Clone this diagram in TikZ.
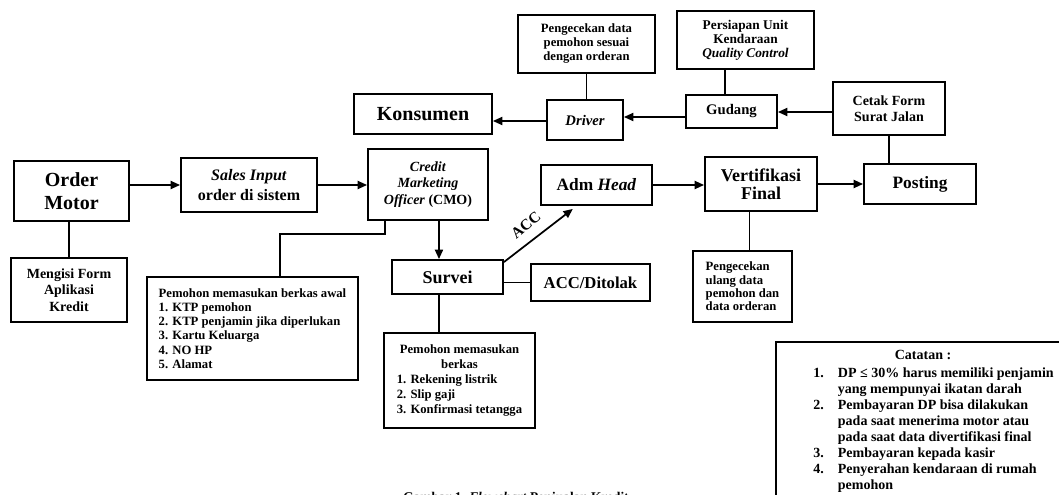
\documentclass[tikz,border=0pt]{standalone}
\usepackage{fontspec}
\setmainfont{Liberation Serif}
\usetikzlibrary{arrows.meta,calc}
\tikzset{
  box/.style={draw, line width=1.4pt, inner sep=0pt, align=center, font=\bfseries},
  arr/.style={-{Triangle[length=7pt,width=6pt]}, line width=1.3pt},
  ln/.style={line width=1.3pt},
}
% #2 name, #3 x1, #4 y1, #5 x2, #6 y2 (pixels), #7 text
\newcommand\mybox[7][]{\node[box, minimum width={(#5-#3)*0.75pt}, minimum height={(#6-#4)*0.75pt}, #1] (#2) at ({(#3+#5)/2},{(#4+#6)/2}) {#7};}
\begin{document}
\begin{tikzpicture}[x=0.75pt,y=-0.75pt]
\useasboundingbox (0,0) rectangle (1059,495);
\clip (0,0) rectangle (1059,495);
% boxes
\mybox[font=\bfseries\fontsize{15}{17}\selectfont]{order}{14}{161}{129}{221}{Order\\Motor}
\mybox[font=\bfseries\fontsize{12}{15}\selectfont]{sales}{181}{158}{317}{212}{\textit{Sales Input}\\order di sistem}
\mybox[font=\bfseries\fontsize{10.5}{12.5}\selectfont]{form}{11}{258}{127}{322}{Mengisi Form\\Aplikasi\\Kredit}
\mybox[align=left, font=\bfseries\fontsize{9.5}{10.7}\selectfont]{awal}{147}{277}{358}{380}{Pemohon memasukan berkas awal\\1. KTP pemohon\\2. KTP penjamin jika diperlukan\\3. Kartu Keluarga\\4. NO HP\\5. Alamat}
\mybox[font=\bfseries\fontsize{10.5}{12.5}\selectfont]{cmo}{368}{149}{488}{220}{\textit{Credit}\\\textit{Marketing}\\\textit{Officer} (CMO)}
\mybox[font=\bfseries\fontsize{15}{17}\selectfont]{kons}{354}{94}{492}{134}{Konsumen}
\mybox[font=\bfseries\itshape\fontsize{11}{13}\selectfont]{driver}{547}{100}{623}{140}{Driver}
\mybox[font=\bfseries\fontsize{9.5}{10.5}\selectfont]{cek}{518}{15}{655}{73}{Pengecekan data\\pemohon sesuai\\dengan orderan}
\mybox[font=\bfseries\fontsize{10}{10.5}\selectfont]{siap}{677}{11}{814}{69}{Persiapan Unit\\Kendaraan\\\textit{Quality Control}}
\mybox[font=\bfseries\fontsize{11}{13}\selectfont]{gudang}{686}{95}{777}{128}{Gudang}
\mybox[font=\bfseries\fontsize{10.5}{12}\selectfont]{cetak}{833}{82}{945}{135}{Cetak Form\\Surat Jalan}
\mybox[font=\bfseries\fontsize{13}{15}\selectfont]{adm}{541}{165}{652}{205}{Adm \textit{Head}}
\mybox[font=\bfseries\fontsize{13.5}{13.7}\selectfont]{vert}{705}{157}{817}{211}{Vertifikasi\\Final}
\mybox[font=\bfseries\fontsize{13}{15}\selectfont]{post}{864}{164}{976}{204}{Posting}
\mybox[font=\bfseries\fontsize{13.5}{15}\selectfont]{survei}{392}{260}{503}{294}{Survei}
\mybox[font=\bfseries\fontsize{12.5}{14}\selectfont]{acc}{531}{264}{650}{301}{ACC/Ditolak}
\mybox[font=\bfseries\fontsize{9.5}{11.2}\selectfont]{berkas}{384}{333}{535}{428}{Pemohon memasukan\\berkas\\\makebox[94pt][l]{1. Rekening listrik}\\\makebox[94pt][l]{2. Slip gaji}\\\makebox[94pt][l]{3. Konfirmasi tetangga}}
\mybox[align=left, font=\bfseries\fontsize{9.5}{10}\selectfont]{ulang}{693}{251}{792}{322}{Pengecekan\\ulang data\\pemohon dan\\data orderan}
% catatan (box runs past the picture edge)
\draw[line width=1.4pt] (776,520) coordinate (catBL) -- (776,342) coordinate (catTL) -- (1080,342) coordinate (catTR);
\node[font=\bfseries\fontsize{10.5}{12}\selectfont] (cattitle) at (923,355) {Catatan :};
\node[anchor=north west, inner sep=0pt, font=\bfseries\fontsize{10.5}{12}\selectfont] (catlist) at (813,366) {%
\begin{tabular}{@{}p{18.5pt}@{}l@{}}
1. & DP ≤ 30\% harus memiliki penjamin\\
   & yang mempunyai ikatan darah\\
2. & Pembayaran DP bisa dilakukan\\
   & pada saat menerima motor atau\\
   & pada saat data divertifikasi final\\
3. & Pembayaran kepada kasir\\
4. & Penyerahan kendaraan di rumah\\
   & pemohon
\end{tabular}};
\node[anchor=north, inner sep=0pt, font=\bfseries\fontsize{10}{12}\selectfont] (caption) at (516,492) {Gambar 1. \textit{Flowchart} Penjualan Kredit};
% connectors
\draw[arr] (order.east |- sales.west) -- (sales.west);
\draw[arr] (sales.east) -- (cmo.west |- sales.east);
\draw[ln] (order.south -| form.north) -- (form.north);
\coordinate (awalTop) at ($(awal.north west)!0.63!(awal.north east)$);
\coordinate (cmoBotL) at ($(cmo.south west)!0.15!(cmo.south east)$);
\draw[ln] (awalTop) |- ($(cmoBotL)+(0,13)$) -- (cmoBotL);
\coordinate (cmoBotR) at ($(cmo.south west)!0.59!(cmo.south east)$);
\draw[arr] (cmoBotR) -- (survei.north -| cmoBotR);
\draw[ln] (survei.south -| cmoBotR) -- (berkas.north -| cmoBotR);
\draw[ln] (survei.east |- acc.west) -- (acc.west);
\coordinate (admBot) at ($(adm.south west)!0.29!(adm.south east)$);
\draw[arr] ($(survei.north east)+(0,3)$) -- ($(admBot)+(0,3)$);
\node[rotate=40, font=\bfseries\fontsize{11.5}{13}\selectfont] (acclabel) at (526,225) {ACC};
\draw[arr] (adm.east) -- (vert.west |- adm.east);
\draw[arr] (vert.east) -- (post.west |- vert.east);
\coordinate (ulangTop) at ($(ulang.north west)!0.57!(ulang.north east)$);
\draw[ln] (vert.south -| ulangTop) -- (ulangTop);
\draw[ln] (cetak.south) -- (post.north -| cetak.south);
\draw[arr] (cetak.west |- 0,112) -- (gudang.east |- 0,112);
\coordinate (gudTop) at ($(gudang.north west)!0.43!(gudang.north east)$);
\draw[ln] (siap.south -| gudTop) -- (gudTop);
\draw[arr] (gudang.west |- 0,117) -- (driver.east |- 0,117);
\draw[ln] (cek.south) -- (driver.north -| cek.south);
\draw[arr] (driver.west |- 0,121) -- (kons.east |- 0,121);
\end{tikzpicture}
\end{document}
